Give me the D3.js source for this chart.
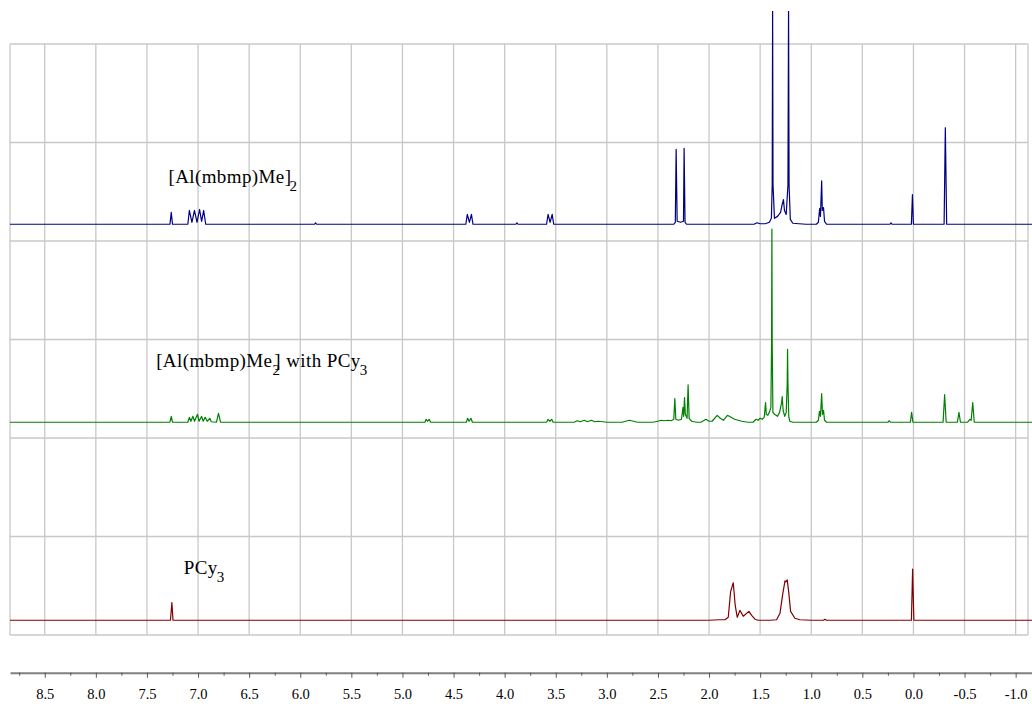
<!DOCTYPE html>
<html>
<head>
<meta charset="utf-8">
<script src="https://cdn.jsdelivr.net/npm/d3@7/dist/d3.min.js"></script>
<style>
body { margin: 0; background: #fff; }
svg { display: block; }
text { font-family: "Liberation Serif", "Times New Roman", serif; }
</style>
</head>
<body>
<div id="chart"></div>
<script>
// spectra as [ppm, intensity] points (100 = one grid band)
var spectrumAl = [
  [8.84,0],
  [7.275,0],[7.262,12],[7.25,0],
  [7.10,0],[7.085,14],[7.06,2],[7.035,14],[7.01,2],[6.985,15],[6.965,3],[6.945,14],[6.925,0],
  [5.86,0],[5.85,1.5],[5.84,0],
  [4.38,0],[4.365,10],[4.345,2],[4.325,10],[4.31,0],
  [3.89,0],[3.88,1.5],[3.87,0],
  [3.59,0],[3.575,10],[3.555,2],[3.535,10],[3.52,0],
  [2.345,0],[2.33,2],[2.322,76],[2.312,3],[2.28,2],[2.25,3],[2.244,77],[2.235,2],[2.22,0],
  [1.56,0],[1.53,1.5],[1.50,0.5],[1.45,0.5],[1.41,2],[1.39,6],[1.382,40],[1.378,220],[1.374,40],
  [1.36,6],[1.33,8],[1.30,12],[1.285,20],[1.272,25],[1.262,14],[1.245,10],[1.228,40],[1.222,220],
  [1.217,40],[1.205,5],[1.18,1],[1.12,0.5],[1.05,0],
  [0.95,0],[0.93,2],[0.918,16],[0.91,8],[0.898,44],[0.892,14],[0.88,17],[0.87,3],[0.85,0],
  [0.23,0],[0.22,1.5],[0.21,0],
  [0.02,0],[0.01,30],[0.0,0],
  [-0.30,0],[-0.312,98],[-0.325,0],
  [-1.16,0]
];

var spectrumMix = [
  [8.84,0],
  [7.275,0],[7.262,6],[7.25,0],
  [7.10,0],[7.085,5],[7.07,1],[7.05,6],[7.035,1],[7.005,8],[6.99,1],[6.965,6],[6.95,1],
  [6.93,5],[6.91,1],[6.885,4],[6.87,0.5],
  [6.82,0],[6.80,9],[6.78,0],
  [4.78,0],[4.768,3],[4.755,1],[4.738,3],[4.725,0],
  [4.375,0],[4.362,4],[4.348,1],[4.33,4],[4.315,0],
  [3.59,0],[3.575,3],[3.558,1],[3.54,3],[3.525,0],
  [3.32,0],[3.29,1.5],[3.26,0.5],[3.22,2],[3.19,0.5],[3.15,2],[3.12,0.5],[3.08,1],[3.0,0],
  [2.85,0],[2.78,2],[2.70,0],
  [2.55,0],[2.50,1],[2.47,2],[2.44,1.5],[2.40,2],[2.37,1.5],[2.345,3],[2.335,24],[2.325,3],
  [2.30,2],[2.27,3],[2.255,15],[2.248,6],[2.24,25],[2.232,8],[2.215,4],[2.205,38],[2.195,4],
  [2.17,1],[2.12,0],
  [2.08,0],[2.03,3],[2.0,1],[1.97,1],[1.92,7],[1.89,4],[1.86,2],[1.82,7],[1.75,3],[1.68,1],[1.62,0],
  [1.57,0],[1.54,3],[1.52,2],[1.50,4],[1.48,3],[1.46,5],[1.447,20],[1.44,8],[1.425,7],[1.41,10],
  [1.395,15],[1.388,80],[1.385,196],[1.382,80],[1.375,10],[1.36,8],[1.33,6],[1.31,10],[1.29,20],
  [1.284,26],[1.275,12],[1.26,6],[1.245,10],[1.235,40],[1.232,74],[1.228,40],[1.22,6],[1.21,1],[1.18,0],
  [0.95,0],[0.93,2],[0.92,11],[0.91,6],[0.898,29],[0.89,8],[0.88,12],[0.87,2],[0.85,0],
  [0.25,0],[0.237,1.5],[0.225,0],
  [0.03,0],[0.018,10],[0.005,0],
  [-0.29,0],[-0.305,28],[-0.32,0],
  [-0.43,0],[-0.445,10],[-0.46,0],
  [-0.53,0],[-0.553,3],[-0.565,2],[-0.58,20],[-0.595,0],
  [-1.16,0]
];

var spectrumPCy = [
  [8.84,0],
  [7.27,0],[7.256,18],[7.245,0],
  [2.0,0],[1.90,0.5],[1.844,0.5],[1.812,3],[1.789,29],[1.763,38],[1.744,15],[1.724,3],[1.698,10],
  [1.665,4],[1.61,9],[1.583,5],[1.551,1],[1.519,0],
  [1.40,0],[1.339,0.5],[1.306,7],[1.28,26],[1.257,40],[1.248,39],[1.235,41],[1.221,29],[1.202,9],
  [1.16,2],[1.11,0.5],[1.0,0],
  [0.88,0],[0.866,1],[0.85,0],
  [0.02,0],[0.008,52],[-0.004,0],
  [-1.16,0]
];

var offsets = [417, 216, 15];
var colors = ["#000080", "#008000", "#800000"];
var labelPpm = [7.29, 7.41, 7.14];
var labelLift = [42, 56, 47];
var majorTicks = [8.5, 8.0, 7.5, 7.0, 6.5, 6.0, 5.5, 5.0, 4.5, 4.0, 3.5, 3.0, 2.5, 2.0, 1.5, 1.0, 0.5, 0.0, -0.5, -1.0];
var minorTicks = [8.75, 8.25, 7.75, 7.25, 6.75, 6.25, 5.75, 5.25, 4.75, 4.25, 3.75, 3.25, 2.75, 2.25, 1.75, 1.25, 0.75, 0.25, -0.25, -0.75];
var gridLevels = [0, 100, 200, 300, 400, 500, 600];

var width = 1032;
var height = 704;
var frameRight = 1028;
var axisY = 672.7;

var xScale = d3.scaleLinear()
  .domain([8.84, -1.16])
  .range([10, 1032]);

var yScale = d3.scaleLinear()
  .domain([0, 600])
  .range([635, 44]);

var svg = d3.select("#chart").append("svg")
  .attr("width", width)
  .attr("height", height);

svg.append("defs").append("clipPath")
  .attr("id", "plotclip")
  .append("rect")
  .attr("x", 10)
  .attr("y", 11)
  .attr("width", width - 10)
  .attr("height", height - 11);

// grid
var grid = svg.append("g").attr("class", "grid")
  .attr("stroke", "#c8c8c8")
  .attr("stroke-width", 1.3);

grid.selectAll(".vline")
  .data(majorTicks)
  .enter()
  .append("line")
  .attr("x1", function(d) { return xScale(d); })
  .attr("x2", function(d) { return xScale(d); })
  .attr("y1", yScale(600))
  .attr("y2", yScale(0));

grid.selectAll(".hline")
  .data(gridLevels)
  .enter()
  .append("line")
  .attr("x1", xScale.range()[0])
  .attr("x2", frameRight)
  .attr("y1", function(d) { return yScale(d); })
  .attr("y2", function(d) { return yScale(d); });

grid.append("line")
  .attr("x1", xScale.range()[0]).attr("x2", xScale.range()[0])
  .attr("y1", yScale(600)).attr("y2", yScale(0));
grid.append("line")
  .attr("x1", frameRight).attr("x2", frameRight)
  .attr("y1", yScale(600)).attr("y2", yScale(0));

// spectra
var spectra = [spectrumAl, spectrumMix, spectrumPCy];

var plot = svg.append("g").attr("clip-path", "url(#plotclip)");

spectra.forEach(function(data, i) {
  var line = d3.line()
    .x(function(d) { return xScale(d[0]); })
    .y(function(d) { return yScale(d[1] + offsets[i]); });

  plot.append("path")
    .datum(data)
    .attr("fill", "none")
    .attr("stroke", colors[i])
    .attr("stroke-width", 1.2)
    .attr("stroke-linejoin", "round")
    .attr("d", line);
});

// labels
function label(i) {
  return svg.append("text")
    .attr("x", xScale(labelPpm[i]))
    .attr("y", yScale(offsets[i] + labelLift[i]))
    .attr("font-size", "19px")
    .attr("letter-spacing", "0.4px")
    .attr("fill", "#000");
}

var t0 = label(0);
t0.append("tspan").text("[Al(mbmp)Me]");
t0.append("tspan").attr("dx", -2).attr("dy", 8).attr("font-size", "15px").text("2");

var t1 = label(1);
t1.append("tspan").text("[Al(mbmp)Me");
t1.append("tspan").attr("dy", 8).attr("font-size", "15px").text("2");
t1.append("tspan").attr("dx", -6).attr("dy", -8).text("] with PCy");
t1.append("tspan").attr("dx", -1).attr("dy", 8).attr("font-size", "15px").text("3");

var t2 = label(2);
t2.append("tspan").text("PCy");
t2.append("tspan").attr("dx", -1).attr("dy", 8).attr("font-size", "15px").text("3");

// x axis
var axis = svg.append("g")
  .attr("class", "axis")
  .attr("transform", "translate(0," + axisY + ")")
  .call(d3.axisBottom(xScale)
    .tickValues(majorTicks)
    .tickSize(5)
    .tickSizeOuter(0)
    .tickPadding(11)
    .tickFormat(function(d) { return d.toFixed(1); }));

axis.select(".domain").attr("stroke", "#808080").attr("stroke-width", 2);
axis.selectAll(".tick line").attr("stroke", "#555");
axis.selectAll(".tick text")
  .attr("fill", "#000")
  .style("font-family", "'Liberation Serif', 'Times New Roman', serif")
  .style("font-size", "14.5px");

svg.append("g")
  .attr("transform", "translate(0," + axisY + ")")
  .call(d3.axisBottom(xScale)
    .tickValues(minorTicks)
    .tickSize(3)
    .tickSizeOuter(0)
    .tickFormat(""))
  .call(function(g) { g.select(".domain").remove(); })
  .selectAll(".tick line").attr("stroke", "#555");
</script>
</body>
</html>
